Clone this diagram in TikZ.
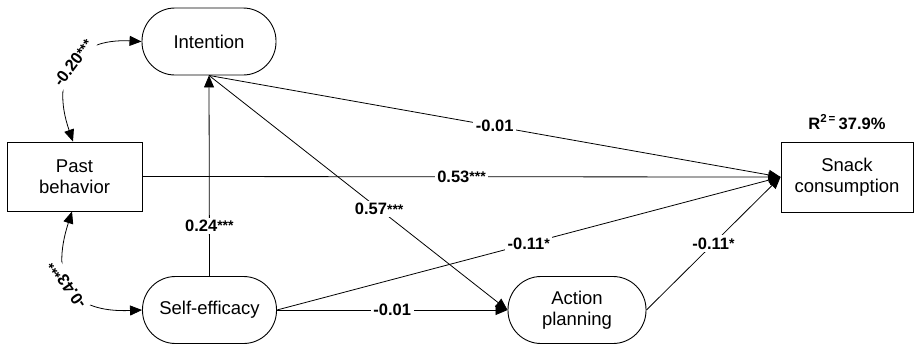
\documentclass[tikz,border=0pt]{standalone}
\usepackage{fontspec}
\setmainfont{Liberation Sans}
\usetikzlibrary{arrows.meta}
\newcommand\pcoef[2]{\textbf{#1}\raisebox{0.8pt}{\fontsize{14}{14}\selectfont\bfseries #2}}
\begin{document}
\begin{tikzpicture}[x=1pt,y=-1pt,
  nodefont/.style={font=\fontsize{18.5}{21.5}\selectfont},
  stad/.style={draw, line width=0.9pt, rounded corners=33pt, minimum width=134pt, minimum height=67pt, align=center, inner sep=0pt, nodefont},
  boxnode/.style={draw, line width=0.9pt, minimum height=69pt, align=center, inner sep=0pt, nodefont},
  conn/.style={line width=0.8pt, -{Triangle[length=12pt,width=10pt]}},
  dconn/.style={line width=0.8pt, {Triangle[length=12pt,width=10pt]}-{Triangle[length=12pt,width=10pt]}},
  lbl/.style={fill=white, inner sep=2.5pt, font=\fontsize{16.5}{18}\selectfont}
]
\useasboundingbox (0,0) rectangle (914,346);

\node[stad] (int) at (209,41.5) {Intention};
\node[boxnode, minimum width=135pt] (pb) at (74.5,176.5) {Past\\behavior};
\node[stad] (se) at (209.5,310) {Self-efficacy};
\node[stad, minimum width=138pt] (ap) at (577,310) {Action\\planning};
\node[boxnode, minimum width=132pt, minimum height=70pt] (sn) at (847,177) {Snack\\consumption};
\node[font=\fontsize{16.5}{18}\selectfont] (r2) at (847,122) {\textbf{R\textsuperscript{2\,=}\,37.9\%}};

% paths into snack consumption
\draw[conn] (int.south) -- (sn.west) node[lbl, pos=0.5] {\textbf{-0.01}};
\draw[conn] (pb.east) -- (sn.west) node[lbl, pos=0.5] {\pcoef{0.53}{***}};
\draw[conn] (se.east) -- (sn.west) node[lbl, pos=0.5] {\pcoef{-0.11}{*}};
\draw[conn] (ap.east) -- (sn.west) node[lbl, pos=0.5] {\pcoef{-0.11}{*}};

% other paths
\draw[conn] (se.north) -- (int.south) node[lbl, pos=0.25] {\pcoef{0.24}{***}};
\draw[conn] (int.south) -- (ap.west) node[lbl, pos=0.57] {\pcoef{0.57}{***}};
\draw[conn] (se.east) -- (ap.west) node[lbl, pos=0.5] {\textbf{-0.01}};

% correlations
\draw[dconn] ([xshift=-1.5pt]pb.north) .. controls (50,75) and (75,38) .. (int.west);
\node[lbl, rotate=53] (c1) at (73,63) {\pcoef{-0.20}{***}};
\draw[dconn] ([xshift=-2.5pt]pb.south) .. controls (50,280) and (70,313) .. (se.west);
\node[lbl, rotate=125] (c2) at (67,285) {\pcoef{-0.43}{***}};
\end{tikzpicture}
\end{document}
